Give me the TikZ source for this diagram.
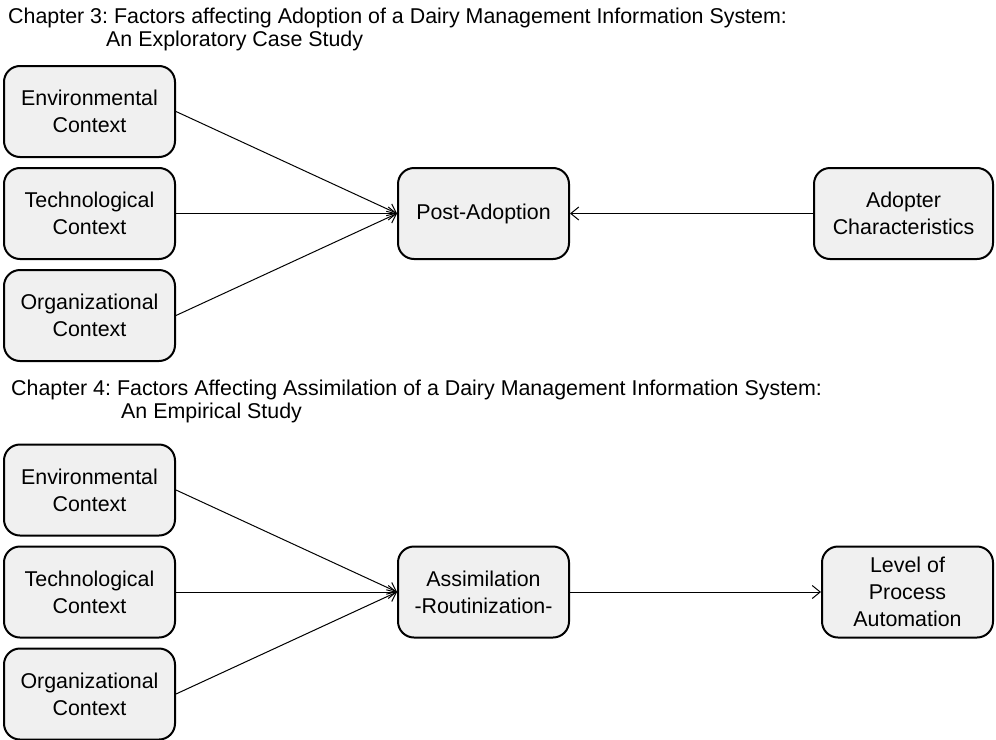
\documentclass[tikz,border=0pt]{standalone}
\usepackage{fontspec}
\setmainfont{Liberation Sans}
\usepackage{xcolor}
\usepackage{tikz}
\usetikzlibrary{arrows.meta,positioning}
\definecolor{boxgray}{RGB}{240,240,240}
\frenchspacing
\tikzset{
  ctxblock/.style={rectangle,draw=black,fill=boxgray,line width=2pt,
    rounded corners=16pt,align=center,inner sep=0pt,
    minimum width=171pt,minimum height=91pt,
    font=\fontsize{21.4pt}{26.7pt}\selectfont},
  darrow/.style={-{Straight Barb[length=8pt,width=13pt]},line width=1pt},
  chaptitle/.style={anchor=base west,inner sep=0pt,
    font=\fontsize{21.4pt}{23pt}\selectfont}
}

\begin{document}
\begin{tikzpicture}[x=1pt,y=-1pt]
  \useasboundingbox (0,0) rectangle (996,739);

  % Chapter 3
  \node[chaptitle] (t3a) at (8,23)
    {Chapter 3: Factors affecting Adoption of a Dairy Management Information System:};
  \node[chaptitle] (t3b) at (106,46.5) {An Exploratory Case Study};

  % Left column
  \node[ctxblock] (env3) at (89.5,111.5) {Environmental\\Context};
  \node[ctxblock,below=9pt of env3] (tech3) {Technological\\Context};
  \node[ctxblock,below=9pt of tech3] (org3) {Organizational\\Context};
  % Middle and right
  \node[ctxblock,right=221pt of tech3] (post) {Post-Adoption};
  \node[ctxblock,minimum width=179pt,right=243pt of post] (adopt)
    {Adopter\\Characteristics};

  \foreach \a in {env3,tech3,org3}
    \draw[darrow] (\a.east) -- (post.west);
  \draw[darrow] (adopt.west) -- (post.east);

  % Chapter 4
  \node[chaptitle] (t4a) at (11,395)
    {Chapter 4: Factors Affecting Assimilation of a Dairy Management Information System:};
  \node[chaptitle] (t4b) at (121,418) {An Empirical Study};

  % Left column
  \node[ctxblock] (env4) at (89.5,490) {Environmental\\Context};
  \node[ctxblock,below=9pt of env4] (tech4) {Technological\\Context};
  \node[ctxblock,below=9pt of tech4] (org4) {Organizational\\Context};
  % Middle and right
  \node[ctxblock,right=221pt of tech4] (assim) {Assimilation\\-Routinization-};
  \node[ctxblock,right=251pt of assim] (level) {Level of\\Process\\Automation};

  \foreach \a in {env4,tech4,org4}
    \draw[darrow] (\a.east) -- (assim.west);
  \draw[darrow] (assim.east) -- (level.west);
\end{tikzpicture}
\end{document}
